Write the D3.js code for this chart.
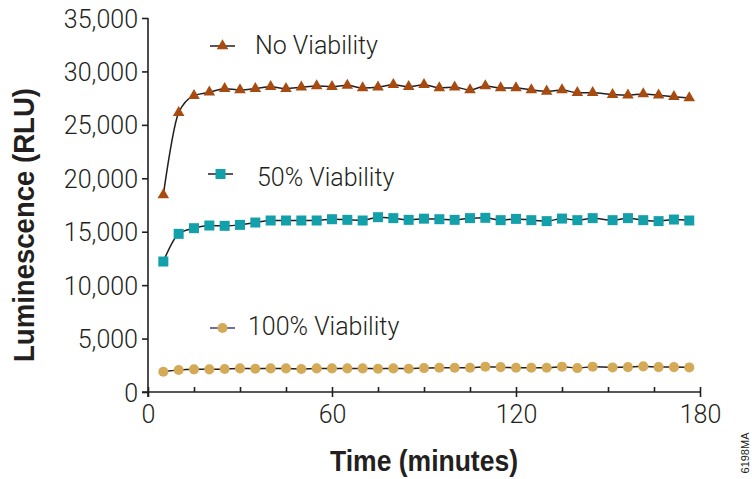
<!DOCTYPE html>
<html>
<head>
<meta charset="utf-8">
<script src="https://cdn.jsdelivr.net/npm/d3@7"></script>
<style>
  body { margin: 0; background: #fff; }
  svg { display: block; }
  .tick text { font-family: Roboto, "Liberation Sans", sans-serif; font-weight: 300; fill: #231f20; }
</style>
</head>
<body>
<svg id="chart" width="752" height="479"></svg>
<script>
// time points in minutes (the last six sit ~1.5 min later than the 5-min grid)
const times = [5, 10, 15, 20, 25, 30, 35, 40, 45, 50, 55, 60, 65, 70, 75, 80, 85, 90,
  95, 100, 105, 110, 115, 120, 125, 130, 135, 140, 145, 151.5, 156.5, 161.5, 166.5, 171.5, 176.5];

const noViability = [18450, 26140, 27730, 28050, 28390, 28260, 28390, 28570, 28390, 28520,
  28640, 28570, 28700, 28450, 28520, 28760, 28570, 28760, 28450, 28520, 28260, 28640, 28450,
  28450, 28260, 28140, 28260, 28010, 28010, 27830, 27770, 27890, 27770, 27640, 27520];
const viability50 = [12210, 14800, 15330, 15580, 15550, 15640, 15860, 16050, 16050, 16050,
  16050, 16170, 16110, 16050, 16360, 16270, 16110, 16220, 16170, 16110, 16270, 16300, 16080,
  16200, 16080, 15990, 16230, 16080, 16270, 16080, 16270, 16080, 15990, 16140, 16050];
const viability100 = [1900, 2060, 2120, 2120, 2150, 2210, 2180, 2210, 2210, 2150, 2210, 2210,
  2210, 2210, 2180, 2210, 2180, 2240, 2270, 2270, 2270, 2370, 2330, 2270, 2270, 2270, 2370,
  2240, 2370, 2300, 2330, 2400, 2330, 2330, 2300];

const yTicks = [0, 5000, 10000, 15000, 20000, 25000, 30000, 35000];
const xMajorTicks = [0, 60, 120, 180];
const xMinorTicks = [15, 30, 45, 75, 90, 105, 135, 150, 165];

const series = [
  { name: "No Viability", values: noViability, symbol: d3.symbolTriangle, size: 58, color: "#a84b10",
    legend: { x: 210, y: 46, tx: 255, ty: 54 }, legendLine: "#231f20" },
  { name: "50% Viability", values: viability50, symbol: d3.symbolSquare, size: 100, color: "#12a0ab",
    legend: { x: 208, y: 174, tx: 257, ty: 186 }, legendLine: "#231f20" },
  { name: "100% Viability", values: viability100, symbol: d3.symbolCircle, size: 80, color: "#d4aa56",
    legend: { x: 210, y: 328, tx: 248, ty: 335 }, legendLine: "#3b3f73" },
];

const margin = { top: 18, right: 52, bottom: 87, left: 148 };
const width = 752 - margin.left - margin.right;
const height = 479 - margin.top - margin.bottom;

const svg = d3.select("#chart");
const g = svg.append("g").attr("transform", `translate(${margin.left},${margin.top})`);

const x = d3.scaleLinear().domain([0, 180]).range([0, width]);
const y = d3.scaleLinear().domain([0, 35000]).range([height, 0]);

// y axis
const yAxis = g.append("g")
  .call(d3.axisLeft(y).tickValues(yTicks).tickFormat(d3.format(",")).tickSize(6).tickSizeOuter(0).tickPadding(4));
yAxis.selectAll("text").attr("font-size", 25).attr("dy", "0.36em");
yAxis.select(".domain").attr("d", `M0,0V${height + 5}`);

// x axis, minor ticks inside only
const xMinor = g.append("g")
  .attr("transform", `translate(0,${height})`)
  .call(d3.axisBottom(x).tickValues(xMinorTicks).tickSize(-5).tickFormat(""));
xMinor.select(".domain").remove();

const xAxis = g.append("g")
  .attr("transform", `translate(0,${height})`)
  .call(d3.axisBottom(x).tickValues(xMajorTicks).tickSizeOuter(0).tickPadding(7));
xAxis.selectAll(".tick line").attr("y1", -5).attr("y2", 5);
xAxis.selectAll("text").attr("font-size", 25);
xAxis.select(".domain").attr("d", `M-6,0H${width}`);

g.selectAll(".domain, .tick line").attr("stroke", "#231f20").attr("stroke-width", 1.6);

// lines and markers
const line = d3.line()
  .x((d) => x(d.t))
  .y((d) => y(d.v))
  .curve(d3.curveMonotoneX);

series.forEach((s) => {
  const pts = times.map((t, i) => ({ t, v: s.values[i] }));

  g.append("path")
    .datum(pts)
    .attr("fill", "none")
    .attr("stroke", "#231f20")
    .attr("stroke-width", 1.5)
    .attr("d", line);

  g.selectAll(null)
    .data(pts)
    .enter()
    .append("path")
    .attr("transform", (d) => `translate(${x(d.t)},${y(d.v)})`)
    .attr("d", d3.symbol().type(s.symbol).size(s.size))
    .attr("fill", s.color);

  // legend
  const lg = svg.append("g");
  lg.append("line")
    .attr("x1", s.legend.x).attr("x2", s.legend.x + 25)
    .attr("y1", s.legend.y).attr("y2", s.legend.y)
    .attr("stroke", s.legendLine).attr("stroke-width", 1.5);
  lg.append("path")
    .attr("transform", `translate(${s.legend.x + 12.5},${s.legend.y})`)
    .attr("d", d3.symbol().type(s.symbol).size(s.size))
    .attr("fill", s.color);
  lg.append("text")
    .attr("x", s.legend.tx).attr("y", s.legend.ty)
    .attr("font-family", "Roboto, 'Liberation Sans', sans-serif")
    .attr("font-weight", 300)
    .attr("font-size", 25)
    .attr("fill", "#231f20")
    .text(s.name);
});

// axis titles, squeezed to mimic a condensed bold face
svg.append("text")
  .attr("x", 330)
  .attr("y", 471)
  .attr("font-family", "'Liberation Sans', Arial, sans-serif")
  .attr("font-weight", "bold")
  .attr("font-size", 30)
  .attr("textLength", 188)
  .attr("lengthAdjust", "spacingAndGlyphs")
  .attr("fill", "#231f20")
  .text("Time (minutes)");

svg.append("text")
  .attr("transform", "translate(34,362) rotate(-90)")
  .attr("font-family", "'Liberation Sans', Arial, sans-serif")
  .attr("font-weight", "bold")
  .attr("font-size", 30)
  .attr("textLength", 274)
  .attr("lengthAdjust", "spacingAndGlyphs")
  .attr("fill", "#231f20")
  .text("Luminescence (RLU)");

svg.append("text")
  .attr("transform", "translate(749,453) rotate(-90)")
  .attr("text-anchor", "middle")
  .attr("font-family", "'Liberation Sans', sans-serif")
  .attr("font-size", 11)
  .attr("fill", "#231f20")
  .text("6198MA");
</script>
</body>
</html>
